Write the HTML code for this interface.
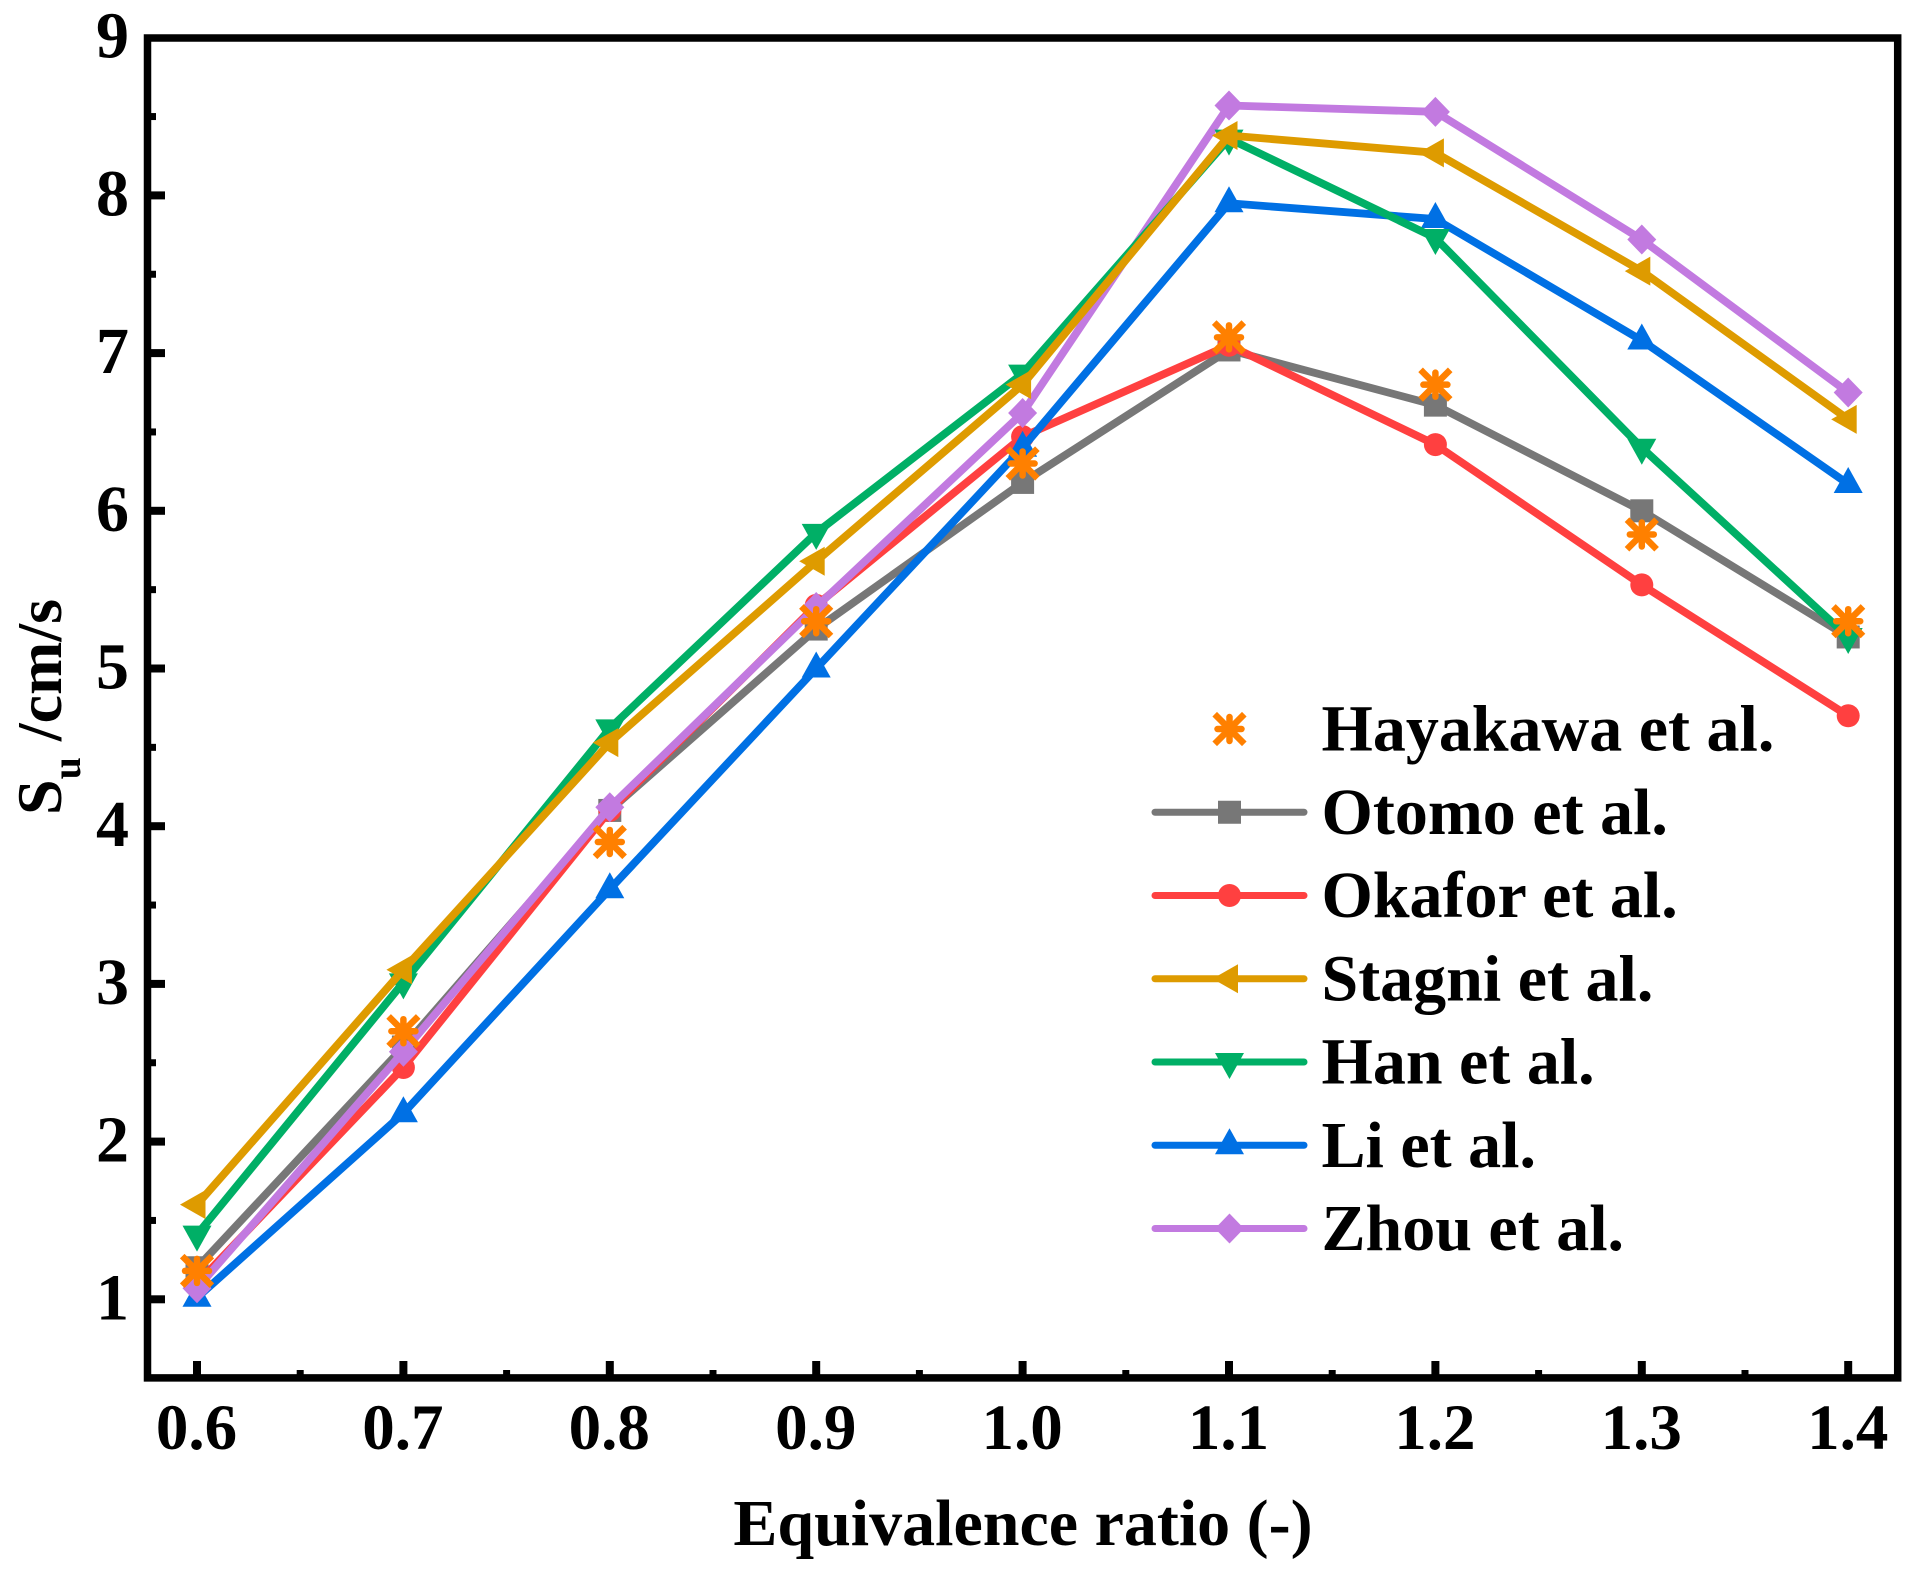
<!DOCTYPE html>
<html lang="en">
<head>
<meta charset="utf-8">
<title>Laminar burning velocity vs equivalence ratio</title>
<style>
html,body{margin:0;padding:0;background:#fff;width:1923px;height:1569px;overflow:hidden}
svg{display:block}
text{font-family:"Liberation Serif",serif;font-weight:bold;fill:#000}
</style>
</head>
<body>
<svg id="chart" xmlns="http://www.w3.org/2000/svg" width="1923" height="1569" viewBox="0 0 1923 1569">
  <rect x="0" y="0" width="1923" height="1569" fill="#fff"/>
  <g id="series-layer"></g>
  <g id="axis-layer"></g>
  <rect x="147.5" y="38" width="1750.2" height="1339.9" fill="none" stroke="#000" stroke-width="7.5"/>
  <g id="legend-layer"></g>
  <text x="1023" y="1545" font-size="66" text-anchor="middle">Equivalence ratio (-)</text>
  <text transform="translate(61,815) rotate(-90)" font-size="64">S<tspan font-size="40" dy="19">u</tspan><tspan dy="-19"> /cm/s</tspan></text>
</svg>
<script>
const categories = [0.6, 0.7, 0.8, 0.9, 1.0, 1.1, 1.2, 1.3, 1.4];
const hayakawa = [1.18, 2.70, 3.90, 5.30, 6.30, 7.10, 6.80, 5.85, 5.30];
const otomo = [1.20, 2.60, 4.10, 5.25, 6.18, 7.02, 6.67, 6.00, 5.20];
const okafor = [1.10, 2.47, 4.10, 5.40, 6.47, 7.05, 6.42, 5.53, 4.70];
const stagni = [1.60, 3.09, 4.53, 5.68, 6.80, 8.38, 8.27, 7.52, 6.58];
const han = [1.41, 3.01, 4.62, 5.86, 6.87, 8.36, 7.73, 6.40, 5.20];
const li = [1.01, 2.18, 3.60, 5.00, 6.40, 7.95, 7.85, 7.08, 6.17];
const zhou = [1.07, 2.57, 4.12, 5.39, 6.62, 8.57, 8.53, 7.72, 6.75];
const xTickLabels = ["0.6", "0.7", "0.8", "0.9", "1.0", "1.1", "1.2", "1.3", "1.4"];
const xMinorTicks = [0.65, 0.75, 0.85, 0.95, 1.05, 1.15, 1.25, 1.35];
const yTickLabels = ["1", "2", "3", "4", "5", "6", "7", "8", "9"];
const yMinorTicks = [1.5, 2.5, 3.5, 4.5, 5.5, 6.5, 7.5, 8.5];
const legendLabels = ["Hayakawa et al.", "Otomo et al.", "Okafor et al.", "Stagni et al.", "Han et al.", "Li et al.", "Zhou et al."];

const NS = "http://www.w3.org/2000/svg";
function xScale(v) { return 197 + (v - 0.6) * 2064; }
function yScale(v) { return 1299.3 - (v - 1) * 157.7; }

function make(tag, attrs, parent) {
  const el = document.createElementNS(NS, tag);
  for (const k in attrs) el.setAttribute(k, attrs[k]);
  parent.appendChild(el);
  return el;
}

function drawMarker(parent, kind, cx, cy, color) {
  let el;
  if (kind === "square") {
    el = make("rect", { x: cx - 11.5, y: cy - 11.5, width: 23, height: 23, fill: color }, parent);
  } else if (kind === "circle") {
    el = make("circle", { cx: cx, cy: cy, r: 11.5, fill: color }, parent);
  } else if (kind === "left") {
    el = make("polygon", { points: (cx - 17) + "," + cy + " " + (cx + 8.5) + "," + (cy - 14.5) + " " + (cx + 8.5) + "," + (cy + 14.5), fill: color }, parent);
  } else if (kind === "down") {
    el = make("polygon", { points: (cx - 14.5) + "," + (cy - 9) + " " + (cx + 14.5) + "," + (cy - 9) + " " + cx + "," + (cy + 17), fill: color }, parent);
  } else if (kind === "up") {
    el = make("polygon", { points: (cx - 14.5) + "," + (cy + 9) + " " + (cx + 14.5) + "," + (cy + 9) + " " + cx + "," + (cy - 17), fill: color }, parent);
  } else if (kind === "diamond") {
    el = make("polygon", { points: (cx - 14.5) + "," + cy + " " + cx + "," + (cy - 15) + " " + (cx + 14.5) + "," + cy + " " + cx + "," + (cy + 15), fill: color }, parent);
  } else {
    el = make("g", { stroke: color, "stroke-width": 6.5, "stroke-linecap": "round", fill: "none" }, parent);
    make("line", { x1: cx - 12, y1: cy, x2: cx + 12, y2: cy }, el);
    make("line", { x1: cx, y1: cy - 12, x2: cx, y2: cy + 12 }, el);
    make("line", { x1: cx - 12.5, y1: cy - 12.5, x2: cx + 12.5, y2: cy + 12.5, "stroke-linecap": "square" }, el);
    make("line", { x1: cx - 12.5, y1: cy + 12.5, x2: cx + 12.5, y2: cy - 12.5, "stroke-linecap": "square" }, el);
  }
  return el;
}

const seriesLayer = document.getElementById("series-layer");
const axisLayer = document.getElementById("axis-layer");
const legendLayer = document.getElementById("legend-layer");

const plotOrder = [
  { slug: "otomo", values: otomo, color: "#777777", marker: "square", line: true },
  { slug: "okafor", values: okafor, color: "#FF4040", marker: "circle", line: true },
  { slug: "li", values: li, color: "#0070E4", marker: "up", line: true },
  { slug: "zhou", values: zhou, color: "#C27AE0", marker: "diamond", line: true },
  { slug: "han", values: han, color: "#00AF66", marker: "down", line: true },
  { slug: "stagni", values: stagni, color: "#DE9B00", marker: "left", line: true },
  { slug: "hayakawa", values: hayakawa, color: "#FF8000", marker: "star", line: false }
];

plotOrder.forEach(function (s) {
  const g = make("g", {}, seriesLayer);
  
  
  if (s.line) {
    const pts = s.values.map(function (v, i) { return xScale(categories[i]) + "," + yScale(v); }).join(" ");
    const line = make("polyline", { points: pts, fill: "none", stroke: s.color, "stroke-width": 7.8, "stroke-linejoin": "round" }, g);
    
    
  }
  s.values.forEach(function (v, i) {
    const m = drawMarker(g, s.marker, xScale(categories[i]), yScale(v), s.color);
    
    
  });
});

xTickLabels.forEach(function (label, i) {
  const x = xScale(categories[i]);
  const t = make("line", { x1: x, x2: x, y1: 1361, y2: 1376, stroke: "#000", "stroke-width": 8 }, axisLayer);
  
  
  const txt = make("text", { x: x - 0.5, y: 1449, "font-size": 65, "text-anchor": "middle" }, axisLayer);
  txt.textContent = label;
  
  
});
xMinorTicks.forEach(function (v) {
  const x = xScale(v);
  const t = make("line", { x1: x, x2: x, y1: 1370, y2: 1376, stroke: "#000", "stroke-width": 7 }, axisLayer);
  
  
});
yTickLabels.forEach(function (label) {
  const y = yScale(Number(label));
  if (Number(label) < 9) {
    const t = make("line", { x1: 149, x2: 165, y1: y, y2: y, stroke: "#000", "stroke-width": 8 }, axisLayer);
    
    
  }
  const txt = make("text", { x: 129, y: y + 20, "font-size": 66, "text-anchor": "end" }, axisLayer);
  txt.textContent = label;
  
  
});
yMinorTicks.forEach(function (v) {
  const y = yScale(v);
  const t = make("line", { x1: 149, x2: 156, y1: y, y2: y, stroke: "#000", "stroke-width": 7 }, axisLayer);
  
  
});

const legendOrder = [plotOrder[6], plotOrder[0], plotOrder[1], plotOrder[5], plotOrder[4], plotOrder[2], plotOrder[3]];
legendOrder.forEach(function (s, i) {
  const y = 729 + i * 83.25;
  const g = make("g", {}, legendLayer);
  
  
  if (s.line) {
    make("line", { x1: 1155, x2: 1304, y1: y, y2: y, stroke: s.color, "stroke-width": 7, "stroke-linecap": "round" }, g);
  }
  drawMarker(g, s.marker, 1229.5, y, s.color);
  const txt = make("text", { x: 1321.5, y: y + 21.5, "font-size": 66 }, g);
  txt.textContent = legendLabels[i];
  
  
});
</script>
</body>
</html>
